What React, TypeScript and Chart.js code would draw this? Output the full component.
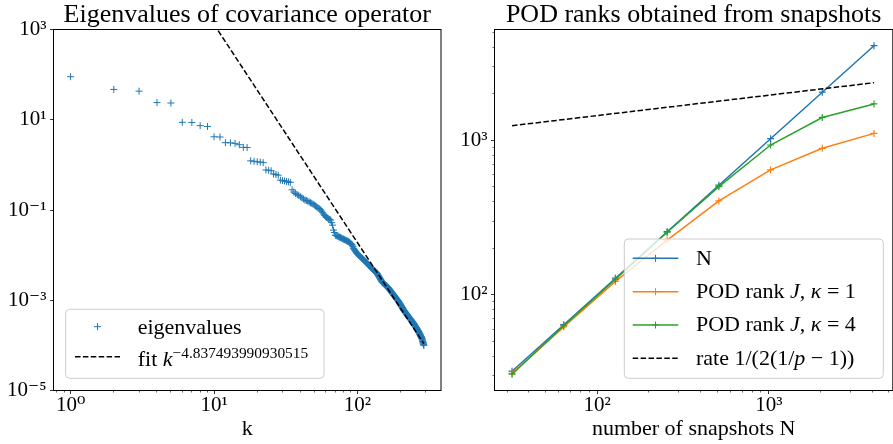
import React, { useEffect, useRef } from 'react';
import { Chart, registerables } from 'chart.js';

Chart.register(...registerables);

const FAMILY = "'Liberation Serif', 'DejaVu Serif', serif";

// ---------------- left panel: eigenvalues of covariance operator ----------------
const eigenvalues = [
  90, 47, 43, 24, 23.5, 8.8, 8.7, 7.4, 7.1, 4.2,
  4.15, 3.1, 3.08, 3.0, 2.8, 2.45, 2.42, 1.23, 1.2, 1.17,
  1.15, 1.12, 0.77, 0.76, 0.74, 0.63, 0.61, 0.59, 0.46, 0.45,
  0.44, 0.43, 0.42, 0.41, 0.28, 0.25, 0.233, 0.219, 0.209, 0.196,
  0.186, 0.176, 0.166, 0.162, 0.157, 0.151, 0.145, 0.14, 0.135, 0.129,
  0.123, 0.117, 0.112, 0.108, 0.102, 0.0955, 0.0891, 0.0813, 0.0759, 0.0706,
  0.0684, 0.0661, 0.0638, 0.0617, 0.0597, 0.0525, 0.0462, 0.0358, 0.0316, 0.0277,
  0.0272, 0.0266, 0.0261, 0.0255, 0.025, 0.0245, 0.024, 0.0234, 0.023, 0.0226,
  0.0221, 0.0217, 0.0213, 0.0209, 0.0205, 0.0201, 0.0197, 0.0191, 0.0184, 0.0178,
  0.0172, 0.0167, 0.0153, 0.0141, 0.0134, 0.0127, 0.0121, 0.0115, 0.0109, 0.0106,
  0.0103, 0.01, 0.00973, 0.00944, 0.00916, 0.00891, 0.00865, 0.00841, 0.00818, 0.00794,
  0.00773, 0.00752, 0.0073, 0.0071, 0.0069, 0.00671, 0.00653, 0.00634, 0.00617, 0.006,
  0.00583, 0.00568, 0.00552, 0.00536, 0.00521, 0.00507, 0.00495, 0.00484, 0.00473, 0.00462,
  0.00452, 0.00442, 0.00432, 0.00421, 0.00411, 0.00402, 0.00393, 0.00378, 0.00363, 0.00349,
  0.00336, 0.00323, 0.0031, 0.00299, 0.00288, 0.00277, 0.00266, 0.00256, 0.00251, 0.00246,
  0.00241, 0.00237, 0.00232, 0.00227, 0.00223, 0.00218, 0.00214, 0.0021, 0.00206, 0.00202,
  0.00198, 0.00194, 0.0019, 0.00187, 0.00183, 0.00178, 0.00174, 0.0017, 0.00166, 0.00162,
  0.00158, 0.00154, 0.0015, 0.00147, 0.00143, 0.0014, 0.00136, 0.00133, 0.0013, 0.00127,
  0.00124, 0.00121, 0.00119, 0.00116, 0.00113, 0.00111, 0.00108, 0.00106, 0.00103, 0.00101,
  0.000989, 0.000966, 0.000944, 0.000923, 0.000898, 0.000875, 0.000851, 0.00083, 0.000807, 0.000787,
  0.000766, 0.000746, 0.000726, 0.000706, 0.000689, 0.00067, 0.000653, 0.000635, 0.000619, 0.000603,
  0.00059, 0.000579, 0.000568, 0.000556, 0.000545, 0.000535, 0.000524, 0.000513, 0.000504, 0.000493,
  0.000483, 0.000474, 0.000465, 0.000455, 0.000446, 0.000438, 0.000429, 0.000421, 0.000414, 0.000406,
  0.000399, 0.000393, 0.000385, 0.000378, 0.000372, 0.000366, 0.000359, 0.000353, 0.000347, 0.00034,
  0.000334, 0.000329, 0.000323, 0.000317, 0.000312, 0.000306, 0.0003, 0.000294, 0.000288, 0.000282,
  0.000277, 0.000271, 0.000265, 0.00026, 0.000255, 0.000249, 0.000245, 0.00024, 0.000235, 0.00023,
  0.000225, 0.000221, 0.000216, 0.000212, 0.000208, 0.000204, 0.0002, 0.000195, 0.00019, 0.000185,
  0.000181, 0.000177, 0.000173, 0.000168, 0.000164, 0.00016, 0.000157, 0.000153, 0.000149, 0.000146,
  0.000142, 0.000137, 0.000132, 0.000126, 0.000122, 0.000117, 0.000112, 0.000108, 0.000104, 0.0001,
];
const fitK = [1, 290];
const fitValues = [8.9e7, 1.09e-4];
const fitExponent = '\u22124.837493990930515';

const leftXMajor = [1, 10, 100];
const leftXLabels = ['10\u2070', '10\u00B9', '10\u00B2'];
const leftXMinor = [0.8, 0.9, 2, 3, 4, 5, 6, 7, 8, 9, 20, 30, 40, 50, 60, 70, 80, 90, 200, 300];
const leftYMajor = [1e-5, 1e-3, 1e-1, 1e1, 1e3];
const leftYLabels = ['10\u207B\u2075', '10\u207B\u00B3', '10\u207B\u00B9', '10\u00B9', '10\u00B3'];
const leftYMinor: number[] = [];

// ---------------- right panel: POD ranks ----------------
const snapshots = [32, 64, 128, 256, 512, 1024, 2048, 4096];
const rankN = [32, 64, 128, 256, 512, 1024, 2048, 4096];
const rankKappa1 = [31, 62, 122, 226, 405, 643, 887, 1108];
const rankKappa4 = [30.6, 63, 126, 254, 501, 932, 1405, 1720];
const rateSnapshots = [32, 4096];
const rateValues = [1243, 2359];

const rightMajor = [100, 1000];
const rightLabels = ['10\u00B2', '10\u00B3'];
const rightMinor = [30, 40, 50, 60, 70, 80, 90, 200, 300, 400, 500, 600, 700, 800, 900, 2000, 3000, 4000, 5000];

const BLUE = '#1f77b4';
const ORANGE = '#ff7f0e';
const GREEN = '#2ca02c';

type Seg = { t: string; it?: boolean; sup?: boolean };

function drawRich(ctx: CanvasRenderingContext2D, x: number, y: number, segs: Seg[], size: number) {
  ctx.textAlign = 'left';
  ctx.textBaseline = 'alphabetic';
  ctx.fillStyle = '#000';
  for (const s of segs) {
    const sz = s.sup ? size * 0.7 : size;
    ctx.font = `${s.it ? 'italic ' : ''}${sz}px ${FAMILY}`;
    ctx.fillText(s.t, x, s.sup ? y - size * 0.36 : y);
    x += ctx.measureText(s.t).width;
  }
}

function plus(ctx: CanvasRenderingContext2D, x: number, y: number, r: number, color: string, w: number) {
  ctx.beginPath();
  ctx.strokeStyle = color;
  ctx.lineWidth = w;
  ctx.setLineDash([]);
  ctx.moveTo(x - r, y);
  ctx.lineTo(x + r, y);
  ctx.moveTo(x, y - r);
  ctx.lineTo(x, y + r);
  ctx.stroke();
}

function roundRect(ctx: CanvasRenderingContext2D, x: number, y: number, w: number, h: number, r: number) {
  ctx.beginPath();
  ctx.moveTo(x + r, y);
  ctx.arcTo(x + w, y, x + w, y + h, r);
  ctx.arcTo(x + w, y + h, x, y + h, r);
  ctx.arcTo(x, y + h, x, y, r);
  ctx.arcTo(x, y, x + w, y, r);
  ctx.closePath();
}

function drawLegend(ctx: CanvasRenderingContext2D, lg: any) {
  const [x, y, w, h] = lg.box;
  roundRect(ctx, x, y, w, h, 4);
  ctx.fillStyle = 'rgba(255,255,255,0.8)';
  ctx.fill();
  ctx.strokeStyle = '#cccccc';
  ctx.lineWidth = 1;
  ctx.stroke();
  for (const it of lg.items) {
    if (it.line) {
      ctx.beginPath();
      ctx.strokeStyle = it.color;
      ctx.lineWidth = 1.5;
      ctx.setLineDash(it.dash || []);
      ctx.moveTo(lg.x1, it.cy);
      ctx.lineTo(lg.x2, it.cy);
      ctx.stroke();
      ctx.setLineDash([]);
    }
    if (it.marker) plus(ctx, (lg.x1 + lg.x2) / 2, it.cy, 3.5, it.color, 1);
    drawRich(ctx, lg.textX, it.base, it.segs, 22);
  }
}

const mplPlugin = {
  id: 'mpl',
  afterDraw(chart: any, _args: any, opts: any) {
    const { ctx, chartArea: a } = chart;
    const xs = chart.scales.x;
    const ys = chart.scales.y;
    ctx.save();
    if (opts.legend) drawLegend(ctx, opts.legend);
    ctx.setLineDash([]);
    ctx.strokeStyle = '#000';
    ctx.lineWidth = 1;
    ctx.strokeRect(a.left, a.top, a.right - a.left, a.bottom - a.top);
    const snap = (p: number) => Math.floor(p) + 0.5;
    const seg = (x1: number, y1: number, x2: number, y2: number, w: number) => {
      ctx.beginPath();
      ctx.lineWidth = w;
      ctx.moveTo(x1, y1);
      ctx.lineTo(x2, y2);
      ctx.stroke();
    };
    const inX = (p: number) => p >= a.left - 0.5 && p <= a.right + 0.5;
    const inY = (p: number) => p >= a.top - 0.5 && p <= a.bottom + 0.5;
    for (const v of opts.xMajor) {
      const p = xs.getPixelForValue(v);
      if (inX(p)) seg(snap(p), a.bottom, snap(p), a.bottom + 3.5, 0.8);
    }
    for (const v of opts.xMinor) {
      const p = xs.getPixelForValue(v);
      if (inX(p)) seg(snap(p), a.bottom, snap(p), a.bottom + 2, 0.6);
    }
    for (const v of opts.yMajor) {
      const p = ys.getPixelForValue(v);
      if (inY(p)) seg(a.left, snap(p), a.left - 3.5, snap(p), 0.8);
    }
    for (const v of opts.yMinor) {
      const p = ys.getPixelForValue(v);
      if (inY(p)) seg(a.left, snap(p), a.left - 2, snap(p), 0.6);
    }
    ctx.restore();
  },
};

function axis(min: number, max: number, major: number[], labels: string[], horizontal: boolean, size: number, title?: string) {
  const o: any = {
    type: 'logarithmic',
    position: horizontal ? 'bottom' : 'left',
    min,
    max,
    bounds: 'data',
    afterBuildTicks: (s: any) => {
      s.ticks = major.map((v) => ({ value: v }));
    },
    afterFit: (s: any) => {
      if (horizontal) s.height = size;
      else s.width = size;
    },
    grid: { display: false, drawTicks: true, tickLength: 3.5 },
    border: { display: false },
    ticks: {
      autoSkip: false,
      maxRotation: 0,
      minRotation: 0,
      padding: horizontal ? 1 : 3.5,
      color: '#000',
      font: { family: FAMILY, size: 21, lineHeight: 1 },
      callback: (_v: any, i: number) => labels[i] ?? '',
    },
  };
  if (title) {
    o.title = {
      display: true,
      text: title,
      color: '#000',
      font: { family: FAMILY, size: 22, lineHeight: 1.2 },
      padding: { top: 0, bottom: 2 },
    };
  }
  return o;
}

function titleOpts(text: string) {
  return {
    display: true,
    text,
    fullSize: false,
    color: '#000',
    font: { family: FAMILY, size: 26, weight: 'normal', lineHeight: 1 },
    padding: { top: 1.7, bottom: 1.8 },
  };
}

function leftConfig(): any {
  return {
    type: 'line',
    data: {
      datasets: [
        {
          label: 'eigenvalues',
          data: eigenvalues.map((v, i) => ({ x: i + 1, y: v })),
          showLine: false,
          pointStyle: 'cross',
          pointRadius: 3.5,
          pointBorderWidth: 1,
          pointBorderColor: BLUE,
          borderColor: BLUE,
          order: 2,
        },
        {
          label: 'fit',
          data: fitK.map((k, i) => ({ x: k, y: fitValues[i] })),
          borderColor: '#000',
          borderWidth: 1.5,
          borderDash: [5.5, 2.4],
          pointRadius: 0,
          order: 1,
        },
      ],
    },
    options: {
      animation: false,
      responsive: false,
      devicePixelRatio: 1,
      events: [],
      layout: { padding: { left: 0, top: 0, right: 3.5, bottom: 0 } },
      plugins: {
        legend: { display: false },
        tooltip: { enabled: false },
        title: titleOpts('Eigenvalues of covariance operator'),
        mpl: {
          xMajor: leftXMajor,
          xMinor: leftXMinor,
          yMajor: leftYMajor,
          yMinor: leftYMinor,
          legend: {
            box: [65.7, 309.3, 258.3, 69],
            x1: 75,
            x2: 120,
            textX: 137.7,
            items: [
              { marker: true, color: BLUE, cy: 326.7, base: 333.5, segs: [{ t: 'eigenvalues' }] },
              {
                line: true,
                dash: [5.5, 2.4],
                color: '#000',
                cy: 356.7,
                base: 365.5,
                segs: [{ t: 'fit ' }, { t: 'k', it: true }, { t: fitExponent, sup: true }],
              },
            ],
          },
        },
      },
      scales: {
        x: axis(0.7597, 382, leftXMajor, leftXLabels, true, 53.5, 'k'),
        y: axis(1e-5, 1e3, leftYMajor, leftYLabels, false, 53.5),
      },
    },
    plugins: [mplPlugin],
  };
}

function rightConfig(): any {
  const lineDs = (label: string, values: number[], color: string, order: number) => ({
    label,
    data: snapshots.map((n, i) => ({ x: n, y: values[i] })),
    borderColor: color,
    borderWidth: 1.5,
    pointStyle: 'cross',
    pointRadius: 3.5,
    pointBorderWidth: 1.2,
    pointBorderColor: color,
    order,
  });
  const rx = 446;
  return {
    type: 'line',
    data: {
      datasets: [
        lineDs('N', rankN, BLUE, 4),
        lineDs('POD rank J, kappa=1', rankKappa1, ORANGE, 3),
        lineDs('POD rank J, kappa=4', rankKappa4, GREEN, 2),
        {
          label: 'rate',
          data: rateSnapshots.map((n, i) => ({ x: n, y: rateValues[i] })),
          borderColor: '#000',
          borderWidth: 1.5,
          borderDash: [5.5, 2.4],
          pointRadius: 0,
          order: 1,
        },
      ],
    },
    options: {
      animation: false,
      responsive: false,
      devicePixelRatio: 1,
      events: [],
      layout: { padding: { left: 0, top: 0, right: 2.5, bottom: 0 } },
      plugins: {
        legend: { display: false },
        tooltip: { enabled: false },
        title: titleOpts('POD ranks obtained from snapshots'),
        mpl: {
          xMajor: rightMajor,
          xMinor: rightMinor,
          yMajor: rightMajor,
          yMinor: rightMinor,
          legend: {
            box: [624.3 - rx, 239, 259, 139.3],
            x1: 632.7 - rx,
            x2: 678.3 - rx,
            textX: 696 - rx,
            items: [
              { line: true, marker: true, color: BLUE, cy: 258.3, base: 264.5, segs: [{ t: 'N' }] },
              {
                line: true,
                marker: true,
                color: ORANGE,
                cy: 291.7,
                base: 297.8,
                segs: [{ t: 'POD rank ' }, { t: 'J', it: true }, { t: ', ' }, { t: '\u03BA', it: true }, { t: ' = 1' }],
              },
              {
                line: true,
                marker: true,
                color: GREEN,
                cy: 325,
                base: 331.2,
                segs: [{ t: 'POD rank ' }, { t: 'J', it: true }, { t: ', ' }, { t: '\u03BA', it: true }, { t: ' = 4' }],
              },
              {
                line: true,
                dash: [5.5, 2.4],
                color: '#000',
                cy: 358.3,
                base: 364.5,
                segs: [{ t: 'rate 1/(2(1/' }, { t: 'p', it: true }, { t: ' \u2212 1))' }],
              },
            ],
          },
        },
      },
      scales: {
        x: axis(25.3, 5270, rightMajor, rightLabels, true, 53.5, 'number of snapshots N'),
        y: axis(24.0, 5214, rightMajor, rightLabels, false, 48.5),
      },
    },
    plugins: [mplPlugin],
  };
}

export default function App() {
  const leftRef = useRef<HTMLCanvasElement>(null);
  const rightRef = useRef<HTMLCanvasElement>(null);
  useEffect(() => {
    Chart.defaults.color = '#000';
    Chart.defaults.font.family = FAMILY;
    const c1 = new Chart(leftRef.current as HTMLCanvasElement, leftConfig());
    const c2 = new Chart(rightRef.current as HTMLCanvasElement, rightConfig());
    return () => {
      c1.destroy();
      c2.destroy();
    };
  }, []);
  return (
    <div style={{ position: 'absolute', left: 0, top: 0, width: 893, height: 444, overflow: 'hidden', background: '#fff' }}>
      <canvas ref={leftRef} width={446} height={444} style={{ position: 'absolute', left: 0, top: 0, width: 446, height: 444 }} />
      <canvas ref={rightRef} width={452} height={444} style={{ position: 'absolute', left: 446, top: 0, width: 452, height: 444 }} />
    </div>
  );
}
